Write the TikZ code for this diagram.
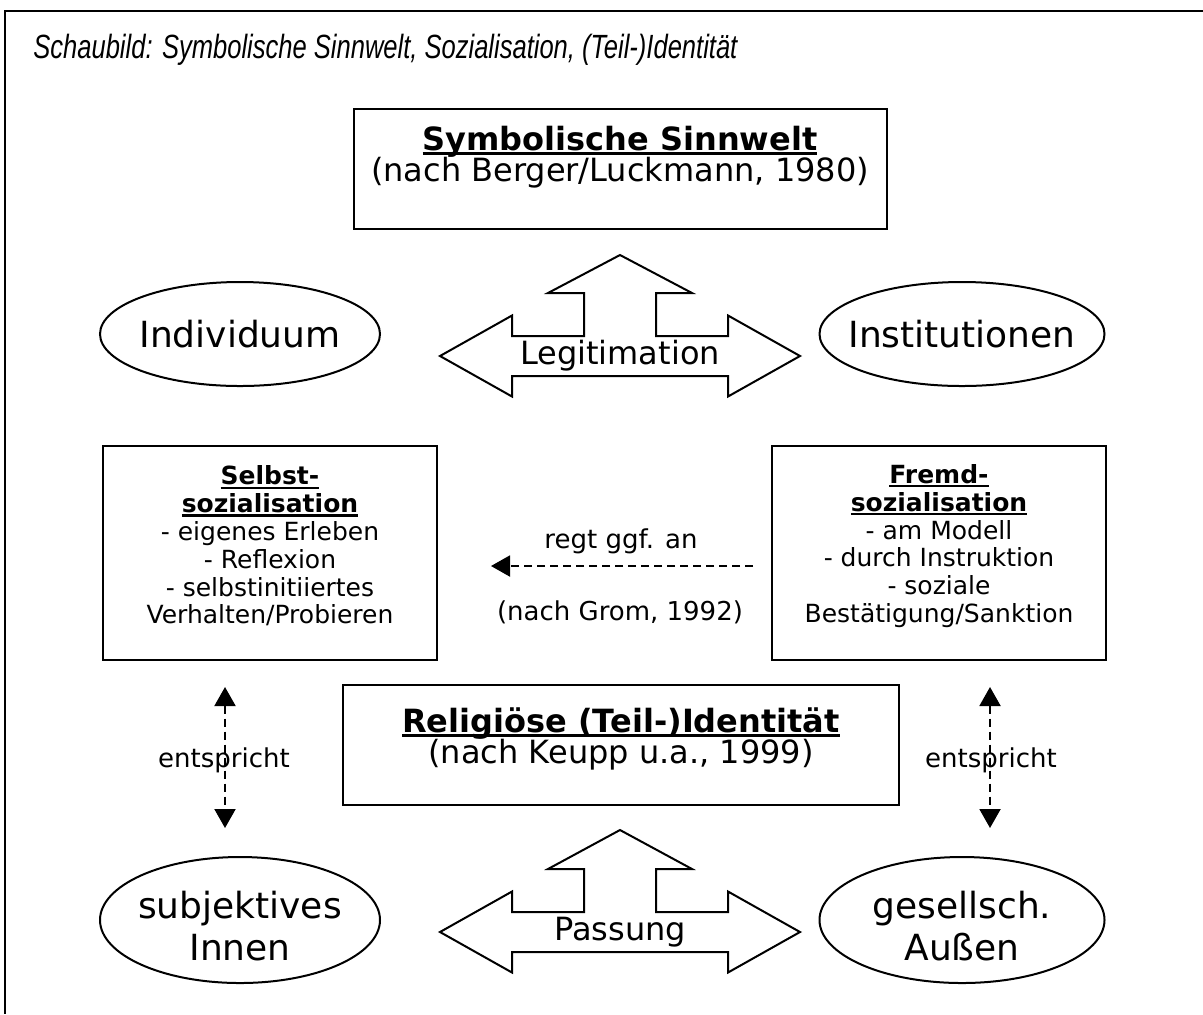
\documentclass[tikz,border=0pt]{standalone}
\usepackage{fontspec}
\setmainfont{DejaVu Sans}
\newfontfamily\titlefont[FakeStretch=0.76]{Liberation Sans}
\usetikzlibrary{shapes.geometric,arrows.meta}

% bold text with a thick underline just below the baseline
\newcommand{\ultext}[1]{\setbox0\hbox{\bfseries #1}\rlap{\rule[-0.16em]{\wd0}{0.09em}}\box0}

\tikzset{
  rahmen/.style={line width=1pt},
  kasten/.style={draw, line width=1pt, inner sep=0pt},
  bubble/.style={draw, ellipse, line width=1pt, inner sep=0pt},
  bubbletext/.style={align=center, inner sep=0pt, font=\fontsize{18}{21}\selectfont},
  fatarrow/.style={draw, line width=1pt, line join=miter},
  arrowtext/.style={inner sep=0pt, font=\fontsize{16}{18}\selectfont},
  kastentext/.style={align=center, inner sep=0pt, font=\fontsize{12.5}{13.9}\selectfont},
  notiz/.style={inner sep=0pt, font=\fontsize{13}{15}\selectfont},
  dasharrow/.style={line width=1pt, dash pattern=on 4pt off 2.5pt, -{Triangle[length=9.5pt,width=10.5pt]}},
  dashboth/.style={line width=1pt, dash pattern=on 4pt off 2.5pt, {Triangle[length=9.5pt,width=10.5pt]}-{Triangle[length=9.5pt,width=10.5pt]}}
}

\begin{document}
\begin{tikzpicture}[x=0.5pt, y=-0.5pt]
    \useasboundingbox (0,0) rectangle (1203,1014);
    % Frame and title
    \draw[rahmen] (1203,11) -- (5,11) -- (5,1014);
    \node[anchor=base west, inner sep=0pt, font=\titlefont\itshape\fontsize{16.8}{20}\selectfont] (titel) at (33,58)
        {Schaubild: Symbolische Sinnwelt, Sozialisation, (Teil-)Identität};

    % Symbolic universe
    \node[kasten, minimum width=266.5pt, minimum height=60pt] (sinn) at (620,169) {};
    \node[anchor=base, inner sep=0pt, font=\fontsize{16}{18}\selectfont] (sinnkopf) at (620,150) {\ultext{Symbolische Sinnwelt}};
    \node[anchor=base, inner sep=0pt, font=\fontsize{16}{18}\selectfont] (sinnquelle) at (620,181) {(nach Berger/Luckmann, 1980)};

    % Upper ellipses and arrow
    \node[bubble, minimum width=140pt, minimum height=52pt] (indiv) at (240,334) {};
    \node[bubbletext] (indivtext) at (indiv) {Individuum};
    \node[bubble, minimum width=142.5pt, minimum height=52pt] (instit) at (962,334) {};
    \node[bubbletext] (instittext) at (instit) {Institutionen};
    \draw[fatarrow, shift={(620,356)}] (-180,0) -- (-108,-40.5) -- (-108,-20) -- (-36,-20) -- (-36,-63) -- (-72,-63)
        -- (0,-101) -- (72,-63) -- (36,-63) -- (36,-20) -- (108,-20) -- (108,-40.5) -- (180,0)
        -- (108,40.5) -- (108,20) -- (-108,20) -- (-108,40.5) -- cycle;
    \node[arrowtext, anchor=base] (legit) at (620,364) {Legitimation};

    % Socialisation boxes
    \node[kasten, minimum width=167pt, minimum height=107pt] (selbst) at (270,553) {};
    \node[kastentext] (selbsttext) at (270,546) {\ultext{Selbst-}\\ \ultext{sozialisation}\\ - eigenes Erleben\\ - Reflexion\\ - selbstinitiiertes\\ Verhalten/Probieren};
    \node[kasten, minimum width=167pt, minimum height=107pt] (fremd) at (939,553) {};
    \node[kastentext] (fremdtext) at (939,546) {\ultext{Fremd-}\\ \ultext{sozialisation}\\ - am Modell\\ - durch Instruktion\\ - soziale\\ Bestätigung/Sanktion};

    % Stimulus arrow
    \coordinate (anregA) at (753,566);
    \coordinate (anregB) at (491,566);
    \draw[dasharrow] (anregA) -- (anregB);
    \node[notiz] (anreg) at (621,541) {regt ggf. an};
    \node[notiz] (grom) at (620,612) {(nach Grom, 1992)};

    % Religious identity
    \node[kasten, minimum width=278pt, minimum height=60pt] (relig) at (621,745) {};
    \node[anchor=base, inner sep=0pt, font=\fontsize{16}{18}\selectfont] (religkopf) at (621,732) {\ultext{Religiöse (Teil-)Identität}};
    \node[anchor=base, inner sep=0pt, font=\fontsize{16}{18}\selectfont] (religquelle) at (621,763) {(nach Keupp u.a., 1999)};

    % Correspondence arrows
    \coordinate (linksA) at (225,687);
    \coordinate (linksB) at (225,828);
    \draw[dashboth] (linksA) -- (linksB);
    \node[notiz] (entsprL) at (224,760) {entspricht};
    \coordinate (rechtsA) at (990,687);
    \coordinate (rechtsB) at (990,828);
    \draw[dashboth] (rechtsA) -- (rechtsB);
    \node[notiz] (entsprR) at (991,760) {entspricht};

    % Lower ellipses and arrow
    \node[bubble, minimum width=140pt, minimum height=63pt] (innen) at (240,920) {};
    \node[bubbletext] (innentext) at (240,926) {subjektives\\Innen};
    \node[bubble, minimum width=142.5pt, minimum height=63pt] (aussen) at (962,920) {};
    \node[bubbletext] (aussentext) at (962,926) {gesellsch.\\Außen};
    \draw[fatarrow, shift={(620,932)}] (-180,0) -- (-108,-40.5) -- (-108,-20) -- (-36,-20) -- (-36,-63) -- (-72,-63)
        -- (0,-102) -- (72,-63) -- (36,-63) -- (36,-20) -- (108,-20) -- (108,-40.5) -- (180,0)
        -- (108,40.5) -- (108,20) -- (-108,20) -- (-108,40.5) -- cycle;
    \node[arrowtext, anchor=base] (pass) at (620,940) {Passung};
\end{tikzpicture}
\end{document}
